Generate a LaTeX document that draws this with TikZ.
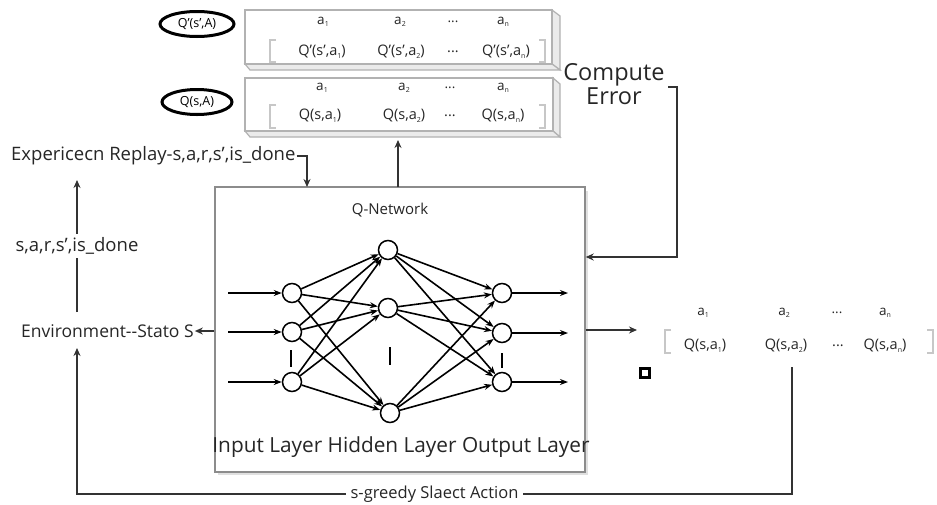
\documentclass[tikz,border=0pt]{standalone}
\usepackage{fontspec}
\setmainfont{Open Sans}
\usetikzlibrary{arrows.meta,shapes.geometric,calc}
\newcommand\sbs[1]{\raisebox{-0.35ex}{\fontsize{7}{8}\selectfont #1}}
\tikzset{
 neuron/.style={circle,draw,line width=1.5pt,minimum size=19pt,inner sep=0pt,fill=white},
 conn/.style={line width=1.6pt,-{Stealth[length=8pt,width=6pt]}},
 flow/.style={line width=2pt,draw=black!80,-{Stealth[length=8pt,width=7pt]}},
 lbl/.style={font=\fontsize{18.5}{20}\selectfont,inner sep=1pt,text=black!85},
 cell/.style={font=\fontsize{14.5}{16}\selectfont,inner sep=0pt,text=black!85},
 acell/.style={font=\fontsize{13.5}{15}\selectfont,inner sep=0pt,text=black!85},
 cloudlbl/.style={ellipse,draw,line width=3pt,minimum width=74pt,minimum height=25pt,inner sep=0pt,font=\fontsize{12.5}{14}\selectfont},
 face/.style={draw=black!30,line width=1.2pt,fill=white},
 side/.style={draw=black!30,line width=1.2pt,fill=black!8},
 brk/.style={draw=black!22,line width=1.8pt},
 tick/.style={line width=1.2pt},
}
\begin{document}
\begin{tikzpicture}[x=1pt,y=-1pt]
\useasboundingbox[fill=white] (0,0) rectangle (937,504);

% ---------- target table Q'(s',A)
\filldraw[side] (552,10) -- (560,16) -- (560,70) -- (552,64) -- cycle;
\filldraw[side] (245,64) -- (552,64) -- (560,70) -- (250,70) -- cycle;
\filldraw[face] (245,10) rectangle (552,64);
\draw[brk] (276,40) -- (270,40) -- (270,62) -- (276,62);
\draw[brk] (539,40) -- (545,40) -- (545,62) -- (539,62);
\node[acell] (t1a1) at (323,22) {a\sbs{1}};
\node[acell] (t1a2) at (400,22) {a\sbs{2}};
\node[acell] (t1ad) at (453,22) {...};
\node[acell] (t1an) at (503,22) {a\sbs{n}};
\node[cell] (t1q1) at (322,52) {Q'(s',a\sbs{1})};
\node[cell] (t1q2) at (401,52) {Q'(s',a\sbs{2})};
\node[cell] (t1qd) at (453,52) {...};
\node[cell] (t1qn) at (506,52) {Q'(s',a\sbs{n})};
\node[cloudlbl] (c1) at (197,24) {Q'(s',A)};

% ---------- online table Q(s,A)
\filldraw[side] (553,78) -- (560,84) -- (560,137) -- (553,131) -- cycle;
\filldraw[side] (245,131) -- (553,131) -- (560,137) -- (250,137) -- cycle;
\filldraw[face] (245,78) rectangle (553,131);
\draw[brk] (276,105) -- (270,105) -- (270,128) -- (276,128);
\draw[brk] (539,105) -- (545,105) -- (545,128) -- (539,128);
\node[acell] (t2a1) at (322,88) {a\sbs{1}};
\node[acell] (t2a2) at (404,88) {a\sbs{2}};
\node[acell] (t2ad) at (450,88) {...};
\node[acell] (t2an) at (503,88) {a\sbs{n}};
\node[cell] (t2q1) at (320,116) {Q(s,a\sbs{1})};
\node[cell] (t2q2) at (404,116) {Q(s,a\sbs{2})};
\node[cell] (t2qd) at (450,116) {...};
\node[cell] (t2qn) at (503,116) {Q(s,a\sbs{n})};
\node[cloudlbl,minimum width=70pt] (c2) at (197,102) {Q(s,A)};
\coordinate (t2bot) at (398,140);

% ---------- compute error
\node[font=\fontsize{23.5}{24}\selectfont,align=center,inner sep=0pt,text=black!85] (err) at (614,84) {Compute\\Error};
\coordinate (errout) at (668,87);
\coordinate (errdown) at (677,87);

% ---------- Q network box
\fill[black!12] (218,191) rectangle (588,475);
\node[draw=black!45,line width=1.4pt,fill=white,minimum width=370pt,minimum height=285pt,inner sep=0pt] (qnet) at (400,329.5) {};
\node[font=\fontsize{15}{17}\selectfont,text=black!85] (qtitle) at (390,210) {Q-Network};
\node[font=\fontsize{20.8}{22}\selectfont,inner sep=0pt,text=black!85] (layers) at (401,447) {Input Layer Hidden Layer Output Layer};

\node[neuron] (i1) at (292,293) {};
\node[neuron] (i2) at (292,332) {};
\node[neuron] (i3) at (292,382) {};
\node[neuron] (h1) at (388,250) {};
\node[neuron] (h2) at (388,308) {};
\node[neuron] (h3) at (390,413) {};
\node[neuron] (o1) at (502,293) {};
\node[neuron] (o2) at (502,333) {};
\node[neuron] (o3) at (502,382) {};
\foreach \a in {1,2,3}{
  \foreach \b in {1,2,3}{
    \draw[conn] (i\a) -- (h\b);
    \draw[conn] (h\a) -- (o\b);
  }
}
\coordinate (in1) at (228,293);
\coordinate (in2) at (228,332);
\coordinate (in3) at (228,382);
\coordinate (out1) at (568,293);
\coordinate (out2) at (568,333);
\coordinate (out3) at (568,382);
\foreach \k in {1,2,3}{
  \draw[conn,line width=2.2pt] (in\k) -- (i\k);
  \draw[conn,line width=2.2pt] (o\k) -- (out\k);
}
\draw[tick] (291,350) -- (291,367);
\draw[tick] (390,347) -- (390,365);
\draw[tick] (502,353) -- (502,368);

% ---------- output table
\draw[brk] (671,330) -- (665,330) -- (665,353) -- (671,353);
\draw[brk] (927,330) -- (933,330) -- (933,353) -- (927,353);
\node[acell] (t3a1) at (703,313) {a\sbs{1}};
\node[acell] (t3a2) at (784,313) {a\sbs{2}};
\node[acell] (t3ad) at (837,313) {...};
\node[acell] (t3an) at (885,313) {a\sbs{n}};
\node[cell] (t3q1) at (705,346) {Q(s,a\sbs{1})};
\node[cell] (t3q2) at (786,346) {Q(s,a\sbs{2})};
\node[cell] (t3qd) at (838,346) {...};
\node[cell] (t3qn) at (885,346) {Q(s,a\sbs{n})};
\node[draw,line width=2.2pt,minimum size=9pt,inner sep=0pt] (sq) at (645,373) {};
\coordinate (t3in) at (637,330);
\coordinate (t3down) at (792,367);

% ---------- left labels
\node[lbl,anchor=west] (rep) at (10,156) {Expericecn Replay-s,a,r,s',is\_done};
\node[lbl,font=\fontsize{17.5}{19}\selectfont,anchor=west] (env) at (20,331) {Environment-{}-Stato S};
\coordinate (reptop) at (77,180);
\coordinate (envtop) at (77,312);
\coordinate (envbot) at (77,348);
\coordinate (repin) at (307,187);
\coordinate (qtop) at (398,187);

% ---------- connectors
\draw[flow] (rep.east) -| (repin);
\draw[flow] (qtop) -- (t2bot);
\draw[flow] (errout) -- (errdown) |- (qnet.east |- 0,257);
\draw[flow] (qnet.west |- env) -- (env.east);
\draw[flow] (qnet.east |- 0,330) -- (t3in);
\draw[flow] (envtop) -- (reptop) node[midway,lbl,fill=white,inner sep=4pt] {s,a,r,s',is\_done};
\draw[flow] (t3down) -- (792,494) -- node[pos=0.5,lbl,font=\fontsize{16.5}{18}\selectfont,fill=white,inner sep=5pt] {s-greedy Slaect Action} (77,494) -- (envbot);
\end{tikzpicture}
\end{document}
